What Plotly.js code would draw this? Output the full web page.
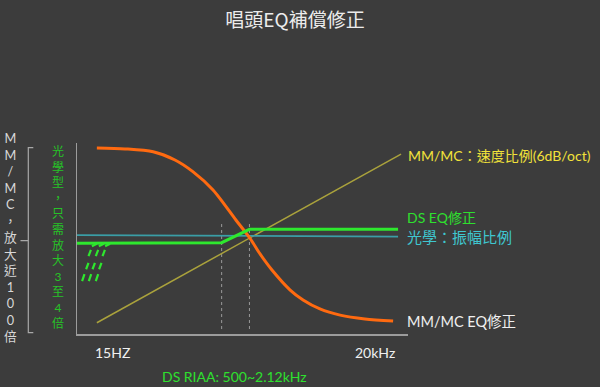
<!DOCTYPE html>
<html>
<head>
<meta charset="utf-8">
<script src="https://cdn.plot.ly/plotly-3.0.1.min.js"></script>
<style>
html,body{margin:0;padding:0;background:#3c3c3c;}
#chart{width:600px;height:387px;}
</style>
</head>
<body>
<div id="chart"></div>
<script>
// ---- data (abstract 0-100 units) ----
const mmEqX = [6.0, 14.5, 23.0, 29.6, 35.0, 41.1, 48.0, 52.3, 55.3, 58.9, 64.4, 68.3, 73.4, 79.5, 87.0, 95.5];
const mmEqY = [97.4, 96.9, 95.4, 91.1, 85.0, 75.4, 59.7, 50.0, 41.9, 33.5, 23.0, 17.8, 13.1, 9.9, 7.9, 6.8];

const mmVelX = [6.0, 97.9];
const mmVelY = [5.9, 94.2];

const opticalX = [0, 97.0];
const opticalY = [51.8, 51.0];

const dsEqX = [0, 43.7, 52.1, 97.0];
const dsEqY = [47.5, 47.8, 54.8, 54.8];

const riaaLowX = [43.7, 43.7];
const riaaHighX = [52.1, 52.1];
const riaaY = [2.6, 58.1];

// hatch marks (bottom, top pairs, null separated)
const hatchX = [3.48, 4.20, null, 5.68, 6.40, null, 7.71, 8.43, null,
                2.75, 3.47, null, 4.69, 5.41, null, 6.68, 7.40, null,
                1.54, 2.26, null, 3.57, 4.29, null, 5.68, 6.40, null,
                4.5, 6.0, null, 6.6, 8.1, null, 8.5, 10.0];
const hatchY = [40.8, 44.0, null, 40.8, 44.0, null, 40.8, 44.0, null,
                33.9, 37.3, null, 33.9, 37.3, null, 33.9, 37.3, null,
                27.7, 31.3, null, 27.7, 31.3, null, 27.7, 31.3, null,
                46.0, 47.2, null, 46.0, 47.2, null, 46.0, 47.2];

const xTickVals = [10.6, 90.0];
const xTickText = ['15HZ', '20kHz'];

const FONT = "Lato, 'Noto Sans CJK TC', 'Noto Sans', sans-serif";

const traces = [
  {x: riaaLowX, y: riaaY, mode: 'lines', line: {color: '#9a9a9a', width: 1, dash: '3px,3px'}, hoverinfo: 'skip'},
  {x: riaaHighX, y: riaaY, mode: 'lines', line: {color: '#9a9a9a', width: 1, dash: '3px,3px'}, hoverinfo: 'skip'},
  {x: mmVelX, y: mmVelY, mode: 'lines', line: {color: '#aaa23c', width: 1.5}},
  {x: opticalX, y: opticalY, mode: 'lines', line: {color: '#3a9ea6', width: 1.8}},
  {x: mmEqX, y: mmEqY, mode: 'lines', line: {color: '#ff6a10', width: 3, shape: 'spline', smoothing: 0.8}},
  {x: dsEqX, y: dsEqY, mode: 'lines', line: {color: '#2ee82e', width: 3}},
  {x: hatchX, y: hatchY, mode: 'lines', connectgaps: false, line: {color: '#2ee82e', width: 2.2}}
];

const px = (p) => (p - 77) / 331;   // helper: pixel -> paper x
const py = (p) => (334 - p) / 191;  // helper: pixel -> paper y

const annotations = [
  {text: 'M<br>M<br>/<br>M<br>C<br>，<br>放<br>大<br>近<br>1<br>0<br>0<br>倍', x: px(10.7), y: py(236.5),
   xref: 'paper', yref: 'paper', showarrow: false, xanchor: 'center', yanchor: 'middle',
   font: {family: FONT, size: 12.7, color: '#d8d8d8'}},
  {text: '光<br>學<br>型<br>，<br>只<br>需<br>放<br>大<br>3<br>至<br>4<br>倍', x: px(58.3), y: py(237.9),
   xref: 'paper', yref: 'paper', showarrow: false, xanchor: 'center', yanchor: 'middle',
   font: {family: FONT, size: 12, color: '#27c227'}},
  {text: 'MM/MC：速度比例(6dB/oct)', x: px(406), y: py(155), xref: 'paper', yref: 'paper', showarrow: false,
   xanchor: 'left', yanchor: 'middle', font: {family: FONT, size: 14, color: '#f2e23a'}},
  {text: 'DS EQ修正', x: px(405), y: py(217.3), xref: 'paper', yref: 'paper', showarrow: false,
   xanchor: 'left', yanchor: 'middle', font: {family: FONT, size: 14, color: '#2ee02e'}},
  {text: '光學：振幅比例', x: px(405), y: py(237.3), xref: 'paper', yref: 'paper', showarrow: false,
   xanchor: 'left', yanchor: 'middle', font: {family: FONT, size: 15, color: '#3fc6cf'}},
  {text: 'MM/MC EQ修正', x: px(405), y: py(321.7), xref: 'paper', yref: 'paper', showarrow: false,
   xanchor: 'left', yanchor: 'middle', font: {family: FONT, size: 14.5, color: '#f0f0f0'}},
  {text: xTickText[0], x: xTickVals[0], y: py(352), xref: 'x', yref: 'paper', showarrow: false,
   xanchor: 'center', yanchor: 'middle', font: {family: FONT, size: 14, color: '#f0f0f0'}},
  {text: xTickText[1], x: xTickVals[1], y: py(352), xref: 'x', yref: 'paper', showarrow: false,
   xanchor: 'center', yanchor: 'middle', font: {family: FONT, size: 14, color: '#f0f0f0'}},
  {text: 'DS RIAA: 500~2.12kHz', x: px(234.7), y: py(376), xref: 'paper', yref: 'paper', showarrow: false,
   xanchor: 'center', yanchor: 'middle', font: {family: FONT, size: 14, color: '#2ee02e'}}
];

const bx = px(28.3), bcap = px(33.3), bnotch = px(20.5);
const shapes = [
  {type: 'path', xref: 'paper', yref: 'paper',
   path: `M ${bcap},${py(147.7)} L ${bx},${py(147.7)} L ${bx},${py(332.7)} L ${bcap},${py(332.7)} M ${bx},${py(240.7)} L ${bnotch},${py(240.7)}`,
   line: {color: '#a8a8a8', width: 1.2}}
];

const layout = {
  width: 600, height: 387,
  paper_bgcolor: '#3c3c3c', plot_bgcolor: '#3c3c3c',
  margin: {l: 77, r: 192, t: 143, b: 53},
  showlegend: false,
  title: {text: '唱頭EQ補償修正', x: 295 / 600, xanchor: 'center', y: 1 - 20 / 387, yanchor: 'middle',
          xref: 'container', yref: 'container',
          font: {family: "'Noto Sans CJK TC', sans-serif", size: 19, color: '#ececec'}},
  xaxis: {range: [0, 100], showgrid: false, zeroline: false, showline: true, linecolor: '#9c9c9c', linewidth: 1.5,
          showticklabels: false, ticks: '', fixedrange: true},
  yaxis: {range: [0, 100], showgrid: false, zeroline: false, showline: true, linecolor: '#9c9c9c', linewidth: 1.5,
          showticklabels: false, ticks: '', fixedrange: true},
  annotations: annotations,
  shapes: shapes
};

Plotly.newPlot('chart', traces, layout, {displayModeBar: false, staticPlot: true});
</script>
</body>
</html>
